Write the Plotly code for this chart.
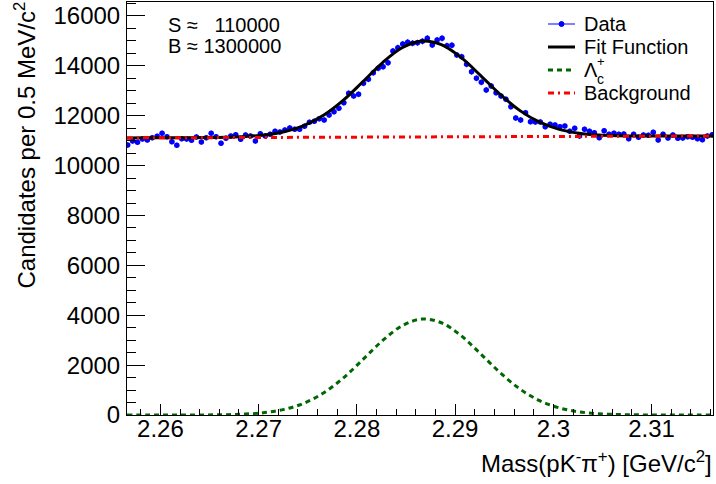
import numpy as np
import plotly.graph_objects as go

# ---- data ----
bin_start = 2.25667      # GeV, centre of first bin
bin_width = 0.0005       # GeV
counts = [
    10826, 10986, 10934, 11066, 11026, 11119, 11175, 11295, 11159, 10958,
    10814, 11079, 11066, 11014, 11146, 10946, 11119, 11295, 11159, 10894,
    11092, 11186, 11239, 11054, 11227, 11186, 10986, 11279, 11186, 11255,
    11375, 11347, 11427, 11507, 11455, 11455, 11576, 11736, 11776, 11880,
    11828, 12029, 12161, 12297, 12522, 12899, 12791, 12859, 13300, 13460,
    13725, 13901, 13965, 14126, 14595, 14727, 14876, 14944, 14904, 14928,
    14984, 15104, 14836, 15036, 15104, 14807, 14823, 14435, 14367, 14062,
    13765, 13500, 13340, 13031, 13192, 12923, 12791, 12658, 12361, 11908,
    11828, 12121, 11760, 11748, 11748, 11560, 11656, 11628, 11560, 11588,
    11375, 11495, 11186, 11455, 11375, 11319, 11119, 11399, 11255, 11295,
    11255, 11267, 11079, 11255, 11135, 11227, 11215, 11335, 11026, 11255,
    11106, 11227, 11092, 11106, 11159, 11135, 11079, 11039, 11186, 11239,
]

# curve samples, every 2 MeV
curve_start = 2.2566
curve_step = 0.002
fit_vals = [
    11110, 11113, 11115, 11119, 11125, 11136, 11163, 11225, 11356, 11605,
    12019, 12617, 13361, 14123, 14724, 14995, 14852, 14338, 13610, 12851,
    12205, 11741, 11453, 11297, 11224, 11195, 11185, 11184, 11185, 11187,
    11190,
]
signal_vals = [
    0, 0, 0, 1, 4, 13, 37, 96, 225, 471,
    882, 1478, 2219, 2978, 3577, 3845, 3699, 3183, 2452, 1690,
    1042, 575, 284, 126, 50, 18, 6, 2, 0, 0,
    0,
]
bkg_x = [2.2566, 2.3166]
bkg_vals = [11110, 11190]

y_ticks = [0, 2000, 4000, 6000, 8000, 10000, 12000, 14000, 16000]
x_ticks = [2.26, 2.27, 2.28, 2.29, 2.30, 2.31]
x_tick_text = ["2.26", "2.27", "2.28", "2.29", "2.3", "2.31"]

legend_names = ["Data", "Fit Function", "Λ", "Background"]

x_data = bin_start + bin_width * np.arange(len(counts))
x_curve = curve_start + curve_step * np.arange(len(fit_vals))
err = np.sqrt(np.array(counts, dtype=float))

FONT = "Liberation Sans, Arial, Helvetica, sans-serif"
BLUE = "#0000FF"
GREEN = "#006600"
RED = "#FF0000"

fig = go.Figure()

fig.add_trace(go.Scatter(
    x=x_data, y=counts, mode="markers", showlegend=False,
    marker=dict(color=BLUE, size=5.5, symbol="circle"),
    error_y=dict(type="data", array=err, color=BLUE, thickness=1, width=0),
    error_x=dict(type="constant", value=bin_width / 2, color=BLUE, thickness=1, width=0),
))
fig.add_trace(go.Scatter(
    x=x_curve, y=fit_vals, mode="lines", showlegend=False,
    line=dict(color="black", width=3, shape="spline"),
))
fig.add_trace(go.Scatter(
    x=x_curve, y=signal_vals, mode="lines", showlegend=False,
    line=dict(color=GREEN, width=3, dash="5px,4px", shape="spline"),
))
fig.add_trace(go.Scatter(
    x=bkg_x, y=bkg_vals, mode="lines", showlegend=False,
    line=dict(color=RED, width=3, dash="6px,4px,2px,4px"),
))

L, R, T, B = 127, 3, 2, 69
W, H = 716, 484
pw, ph = W - L - R, H - T - B


def px(xp):
    return (xp - L) / pw


def py(yp):
    return 1 - (yp - T) / ph


fig.update_layout(
    width=W, height=H,
    margin=dict(l=L, r=R, t=T, b=B, pad=0),
    paper_bgcolor="white", plot_bgcolor="white",
    font=dict(family=FONT, color="black", size=20),
    showlegend=False,
    xaxis=dict(
        range=[2.2566, 2.31625], showgrid=False, zeroline=False,
        showline=True, linecolor="black", linewidth=1, mirror=True,
        ticks="inside", ticklen=11, tickcolor="black", tickwidth=1,
        tickvals=x_ticks, ticktext=x_tick_text,
        tickfont=dict(size=24, family=FONT),
        ticklabelstandoff=-8,
        minor=dict(dtick=0.002, tick0=2.26, ticks="inside", ticklen=6,
                   tickcolor="black", tickwidth=1, showgrid=False),
    ),
    yaxis=dict(
        range=[0, 16560], showgrid=False, zeroline=False,
        showline=True, linecolor="black", linewidth=1, mirror=True,
        ticks="inside", ticklen=18, tickcolor="black", tickwidth=1,
        tickvals=y_ticks, ticktext=[str(v) for v in y_ticks],
        tickfont=dict(size=24, family=FONT),
        ticklabelstandoff=1,
        minor=dict(dtick=500, ticks="inside", ticklen=9,
                   tickcolor="black", tickwidth=1, showgrid=False),
    ),
)

# ---- legend (drawn manually to match ROOT's compact spacing) ----
leg_rows = [24, 47, 70, 93]
sx0, sx1, tx = 548, 575, 582
leg_styles = [
    dict(color=BLUE, width=1),
    dict(color="black", width=3),
    dict(color=GREEN, width=3, dash="5px,4px"),
    dict(color=RED, width=3, dash="6px,4px,2px,4px"),
]
for yrow, name, st in zip(leg_rows, legend_names, leg_styles):
    fig.add_shape(type="line", xref="paper", yref="paper",
                  x0=px(sx0), x1=px(sx1), y0=py(yrow), y1=py(yrow), line=st)
    fig.add_annotation(text=name, xref="paper", yref="paper", showarrow=False,
                       x=px(tx), y=py(yrow), xanchor="left", yanchor="middle",
                       font=dict(size=20))
# stacked superscript "+" over subscript "c" for the Λc+ entry (ROOT style)
fig.add_annotation(text="+", xref="paper", yref="paper", showarrow=False,
                   x=px(595), y=py(62), xanchor="left", yanchor="middle",
                   font=dict(size=13))
fig.add_annotation(text="c", xref="paper", yref="paper", showarrow=False,
                   x=px(595), y=py(79), xanchor="left", yanchor="middle",
                   font=dict(size=14))
cx = (sx0 + sx1) / 2
fig.add_shape(type="circle", xref="paper", yref="paper",
              x0=px(cx - 2.5), x1=px(cx + 2.5),
              y0=py(leg_rows[0] + 2.5), y1=py(leg_rows[0] - 2.5),
              line=dict(color=BLUE, width=1), fillcolor=BLUE)

annots = [
    dict(text="S ≈ \u00a0\u00a0110000", x=px(166), y=py(25),
         xanchor="left", yanchor="middle", font=dict(size=20)),
    dict(text="B ≈ 1300000", x=px(166), y=py(46),
         xanchor="left", yanchor="middle", font=dict(size=20)),
    dict(text="Mass(pK<sup>-</sup>π<sup>+</sup>) [GeV/c<sup>2</sup>]",
         x=px(714), y=py(462),
         xanchor="right", yanchor="middle", font=dict(size=24)),
    dict(text="Candidates per 0.5 MeV/c<sup>2</sup>", textangle=-90,
         x=px(25), y=py(0),
         xanchor="center", yanchor="top", font=dict(size=24)),
]
for a in annots:
    fig.add_annotation(xref="paper", yref="paper", showarrow=False, **a)

fig.write_html("out.html")
